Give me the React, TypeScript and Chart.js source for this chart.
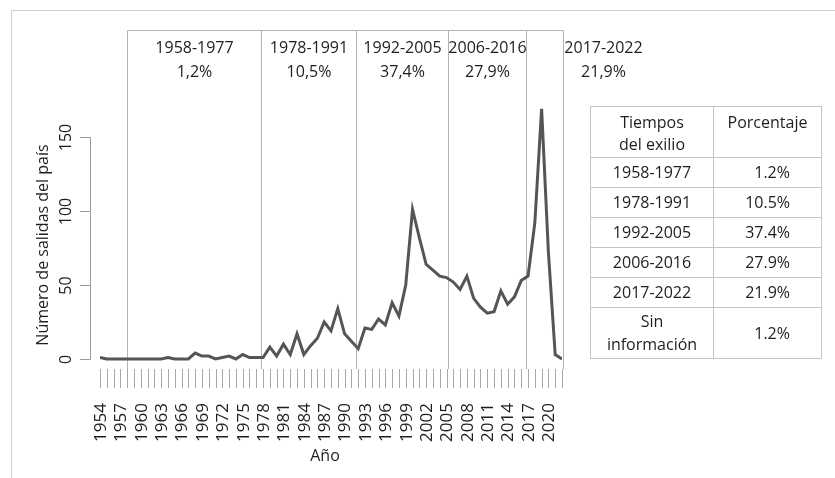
import React, { useEffect, useRef } from "react";
import { Chart, registerables } from "chart.js";

Chart.register(...registerables);

const years = [
  1954, 1955, 1956, 1957, 1958, 1959, 1960, 1961, 1962, 1963,
  1964, 1965, 1966, 1967, 1968, 1969, 1970, 1971, 1972, 1973,
  1974, 1975, 1976, 1977, 1978, 1979, 1980, 1981, 1982, 1983,
  1984, 1985, 1986, 1987, 1988, 1989, 1990, 1991, 1992, 1993,
  1994, 1995, 1996, 1997, 1998, 1999, 2000, 2001, 2002, 2003,
  2004, 2005, 2006, 2007, 2008, 2009, 2010, 2011, 2012, 2013,
  2014, 2015, 2016, 2017, 2018, 2019, 2020, 2021, 2022,
];

const salidas = [
  1, 0, 0, 0, 0, 0, 0, 0, 0, 0,
  1, 0, 0, 0, 4, 2, 2, 0, 1, 2,
  0, 3, 1, 1, 1, 8, 2, 10, 3, 17,
  3, 9, 14, 25, 19, 34, 17, 12, 7, 21,
  20, 27, 23, 38, 29, 50, 101, 82, 64, 60,
  56, 55, 52, 47, 56, 41, 35, 31, 32, 46,
  37, 42, 53, 56, 92, 169, 72, 3, 0,
];

const yTicks = [0, 50, 100, 150];
const xLabelYears = [
  1954, 1957, 1960, 1963, 1966, 1969, 1972, 1975, 1978, 1981, 1984,
  1987, 1990, 1993, 1996, 1999, 2002, 2005, 2008, 2011, 2014, 2017, 2020,
];

const periodLabels = ["1958-1977", "1978-1991", "1992-2005", "2006-2016", "2017-2022"];
const periodPercents = ["1,2%", "10,5%", "37,4%", "27,9%", "21,9%"];
// period boundaries (in years, as drawn in the figure)
const periodBounds = [1958, 1977.7, 1991.7, 2005.2, 2016.65, 2022.15];

const tablePeriods = ["1958-1977", "1978-1991", "1992-2005", "2006-2016", "2017-2022", "Sin información"];
const tablePercents = ["1.2%", "10.5%", "37.4%", "27.9%", "21.9%", "1.2%"];

const FONT = '"Open Sans", "Noto Sans", sans-serif';
const TEXT = "#1e1e1e";

const deco = {
  id: "deco",
  beforeDatasetsDraw(chart: any) {
    const ctx = chart.ctx as CanvasRenderingContext2D;
    const xs = chart.scales.x;
    ctx.save();
    // outer frame (left + top)
    ctx.strokeStyle = "#cfcfcf";
    ctx.lineWidth = 1;
    ctx.beginPath();
    ctx.moveTo(11.5, 478);
    ctx.lineTo(11.5, 10.5);
    ctx.lineTo(835, 10.5);
    ctx.stroke();

    // period box
    const topY = 30.5;
    const botY = 369;
    const px = periodBounds.map((b) => Math.round(xs.getPixelForValue(b)) + 0.5);
    ctx.strokeStyle = "#b4b4b4";
    ctx.beginPath();
    ctx.moveTo(px[0], topY);
    ctx.lineTo(px[px.length - 1], topY);
    ctx.stroke();
    px.forEach((p) => {
      ctx.beginPath();
      ctx.moveTo(p, topY);
      ctx.lineTo(p, botY);
      ctx.stroke();
    });

    // period labels
    ctx.fillStyle = TEXT;
    ctx.font = `16px ${FONT}`;
    ctx.textAlign = "center";
    ctx.textBaseline = "middle";
    periodLabels.forEach((lab, i) => {
      let cx: number;
      if (i < periodLabels.length - 1) cx = (px[i] + px[i + 1]) / 2;
      else cx = px[px.length - 1] + 40;
      ctx.fillText(lab, cx, 48);
      ctx.fillText(periodPercents[i], cx, 72);
    });
    ctx.restore();
  },
  afterDraw(chart: any) {
    const ctx = chart.ctx as CanvasRenderingContext2D;
    const xs = chart.scales.x;
    const ys = chart.scales.y;
    ctx.save();
    ctx.strokeStyle = "#9a9a9a";
    ctx.lineWidth = 1;

    // y axis line + ticks
    const ax = 90.5;
    const y0 = ys.getPixelForValue(yTicks[0]);
    const y1 = ys.getPixelForValue(yTicks[yTicks.length - 1]);
    ctx.beginPath();
    ctx.moveTo(ax, Math.round(y0) + 0.5);
    ctx.lineTo(ax, Math.round(y1) + 0.5);
    ctx.stroke();
    ctx.fillStyle = TEXT;
    ctx.font = `16px ${FONT}`;
    ctx.textAlign = "center";
    ctx.textBaseline = "middle";
    yTicks.forEach((t) => {
      const py = Math.round(ys.getPixelForValue(t)) + 0.5;
      ctx.beginPath();
      ctx.moveTo(80, py);
      ctx.lineTo(ax, py);
      ctx.stroke();
      ctx.save();
      ctx.translate(66, py);
      ctx.rotate(-Math.PI / 2);
      ctx.fillText(String(t), 0, 0);
      ctx.restore();
    });

    // x ticks (every year)
    ctx.strokeStyle = "#a8a8a8";
    years.forEach((yr) => {
      const p = Math.round(xs.getPixelForValue(yr)) + 0.5;
      ctx.beginPath();
      ctx.moveTo(p, 369);
      ctx.lineTo(p, 388);
      ctx.stroke();
    });
    ctx.font = `17px ${FONT}`;
    ctx.textAlign = "right";
    ctx.textBaseline = "middle";
    xLabelYears.forEach((yr) => {
      const p = xs.getPixelForValue(yr) + 1;
      ctx.save();
      ctx.translate(p, 403);
      ctx.rotate(-Math.PI / 2);
      ctx.fillText(String(yr), 0, 0);
      ctx.restore();
    });

    // axis titles
    ctx.font = `16px ${FONT}`;
    ctx.textAlign = "center";
    ctx.fillText("Año", (xs.left + xs.right) / 2 - 6, 456);
    ctx.save();
    ctx.translate(43, 245);
    ctx.rotate(-Math.PI / 2);
    ctx.fillText("Número de salidas del país", 0, 0);
    ctx.restore();
    ctx.restore();
  },
};

export default function App() {
  const ref = useRef<HTMLCanvasElement>(null);
  useEffect(() => {
    const canvas = ref.current!;
    const chart = new Chart(canvas, {
      type: "line",
      data: {
        datasets: [
          {
            data: years.map((yr, i) => ({ x: yr, y: salidas[i] })),
            borderColor: "#555555",
            borderWidth: 3,
            pointRadius: 0,
            tension: 0,
            fill: false,
          },
        ],
      },
      options: {
        responsive: false,
        animation: false,
        devicePixelRatio: 1,
        layout: { padding: { left: 100, right: 273, top: 92.6, bottom: 111.6 } },
        plugins: { legend: { display: false }, tooltip: { enabled: false }, title: { display: false } },
        scales: {
          x: { type: "linear", min: 1954, max: 2022, display: false },
          y: { type: "linear", min: -5, max: 180, display: false },
        },
      },
      plugins: [deco],
    } as any);
    return () => chart.destroy();
  }, []);

  const cellBorder = "1px solid #c4c4c4";
  const rowH = [30, 30, 30, 30, 30, 51];
  return (
    <div style={{ position: "absolute", left: 0, top: 0, width: 835, height: 478, background: "#fff" }}>
      <canvas ref={ref} width={835} height={478} style={{ width: 835, height: 478, display: "block" }} />
      <table
        style={{
          position: "absolute",
          left: 590,
          top: 106,
          width: 231,
          borderCollapse: "collapse",
          fontFamily: FONT,
          fontSize: 16,
          color: TEXT,
          tableLayout: "fixed",
        }}
      >
        <colgroup>
          <col style={{ width: 123 }} />
          <col style={{ width: 108 }} />
        </colgroup>
        <tbody>
          <tr style={{ height: 51 }}>
            <td style={{ border: cellBorder, textAlign: "center", verticalAlign: "top", padding: "4px 0 0 0", lineHeight: "22px" }}>
              Tiempos
              <br />
              del exilio
            </td>
            <td style={{ border: cellBorder, textAlign: "center", verticalAlign: "top", padding: "4px 0 0 0", lineHeight: "22px" }}>
              Porcentaje
            </td>
          </tr>
          {tablePeriods.map((p, i) => (
            <tr key={p} style={{ height: rowH[i] }}>
              <td style={{ border: cellBorder, textAlign: "center", verticalAlign: "middle", padding: 0, lineHeight: "23px" }}>
                {p === "Sin información" ? (
                  <>
                    Sin
                    <br />
                    información
                  </>
                ) : (
                  p
                )}
              </td>
              <td style={{ border: cellBorder, textAlign: "right", verticalAlign: "middle", padding: "0 31px 0 0", lineHeight: "23px" }}>
                {tablePercents[i]}
              </td>
            </tr>
          ))}
        </tbody>
      </table>
    </div>
  );
}
